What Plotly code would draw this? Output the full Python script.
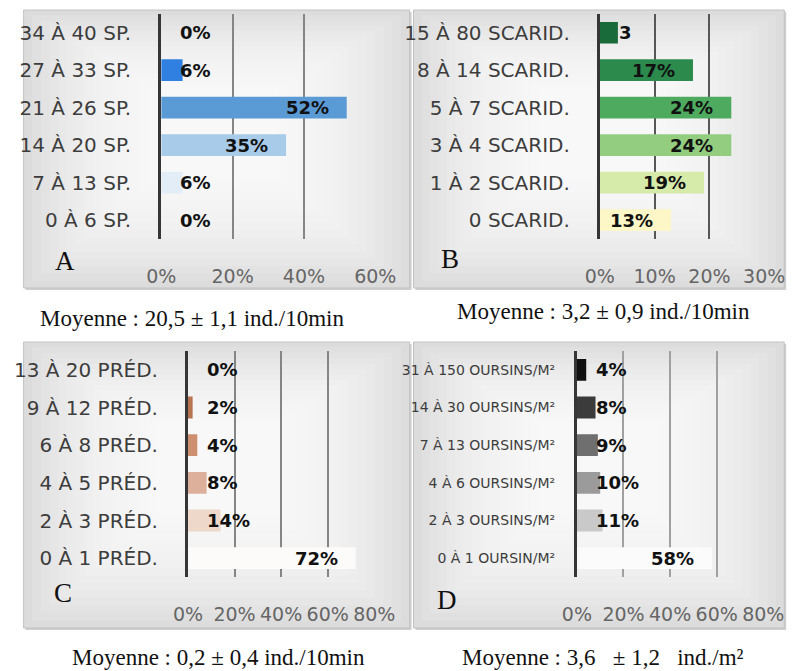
import plotly.graph_objects as go

W, H = 811, 671

# ---------------- data ----------------
cat_a = ["0 À 6 SP.", "7 À 13 SP.", "14 À 20 SP.", "21 À 26 SP.", "27 À 33 SP.", "34 À 40 SP."]
val_a = [0.00, 0.06, 0.35, 0.52, 0.06, 0.00]
lab_a = ["0%", "6%", "35%", "52%", "6%", "0%"]
col_a = ["#dbe8f5", "#e3edf7", "#a9cbea", "#5b9bd5", "#2f80e0", "#1f5fa8"]

cat_b = ["0 SCARID.", "1 À 2 SCARID.", "3 À 4 SCARID.", "5 À 7 SCARID.", "8 À 14 SCARID.", "15 À 80 SCARID."]
val_b = [0.13, 0.19, 0.24, 0.24, 0.17, 0.033]
lab_b = ["13%", "19%", "24%", "24%", "17%", "3"]
col_b = ["#fdf6c6", "#d6eaa9", "#93cd80", "#4daa5f", "#2b8a4c", "#1a6b3a"]

cat_c = ["0 À 1 PRÉD.", "2 À 3 PRÉD.", "4 À 5 PRÉD.", "6 À 8 PRÉD.", "9 À 12 PRÉD.", "13 À 20 PRÉD."]
val_c = [0.72, 0.14, 0.08, 0.04, 0.02, 0.00]
lab_c = ["72%", "14%", "8%", "4%", "2%", "0%"]
col_c = ["#fdfbf9", "#eed8ca", "#dcb09b", "#cd8f6f", "#b87351", "#a0603f"]

cat_d = ["0 À 1 OURSIN/M²", "2 À 3 OURSINS/M²", "4 À 6 OURSINS/M²", "7 À 13 OURSINS/M²",
         "14 À 30 OURSINS/M²", "31 À 150 OURSINS/M²"]
val_d = [0.58, 0.11, 0.10, 0.09, 0.08, 0.04]
lab_d = ["58%", "11%", "10%", "9%", "8%", "4%"]
col_d = ["#fbfbfb", "#c9c9c9", "#9b9b9b", "#6f6f6f", "#3b3b3b", "#111111"]

letters = ["A", "B", "C", "D"]
captions = ["Moyenne : 20,5 ± 1,1 ind./10min", "Moyenne : 3,2 ± 0,9 ind./10min",
            "Moyenne : 0,2 ± 0,4 ind./10min", "Moyenne : 3,6   ± 1,2   ind./m²"]
x_ticks_a = [0, 0.2, 0.4, 0.6]
x_ticks_b = [0, 0.1, 0.2, 0.3]
x_ticks_cd = [0, 0.2, 0.4, 0.6, 0.8]

# ---------------- layout geometry (pixels) ----------------
panels = [
    dict(cats=cat_a, vals=val_a, labs=lab_a, cols=col_a, ticks=x_ticks_a,
         box=(9, 10, 413, 288), px=(153, 377), py=(14, 239), catsize=20, catlen=23,
         grid="#858585", letter=(52, 261), cap=(185, 318)),
    dict(cats=cat_b, vals=val_b, labs=lab_b, cols=col_b, ticks=x_ticks_b,
         box=(417, 10, 805, 288), px=(612, 784), py=(14, 239), catsize=20, catlen=23,
         grid="#575757", letter=(455, 259), cap=(616, 312)),
    dict(cats=cat_c, vals=val_c, labs=lab_c, cols=col_c, ticks=x_ticks_cd,
         box=(9, 342, 413, 628), px=(181, 376), py=(351, 577), catsize=20, catlen=23,
         grid="#858585", letter=(50, 593), cap=(213, 657)),
    dict(cats=cat_d, vals=val_d, labs=lab_d, cols=col_d, ticks=x_ticks_cd,
         box=(417, 342, 805, 628), px=(588, 783), py=(351, 577), catsize=14, catlen=16,
         grid="#a0a0a0", letter=(452, 600), cap=(615, 657)),
]


def fx(p):
    return p / W


def fy(p):
    return 1 - p / H


fig = go.Figure()
shapes = []
annotations = []
layout = {}

for i, p in enumerate(panels):
    n = i + 2
    xa, ya = f"x{n}", f"y{n}"
    xkey, ykey = f"xaxis{n}", f"yaxis{n}"

    # panel background with a soft vignette
    x0, y0, x1, y1 = p["box"]
    shapes.append(dict(type="rect", xref="paper", yref="paper", layer="below",
                       x0=fx(x0 + 2), x1=fx(x1 + 2), y0=fy(y1 + 2), y1=fy(y0 + 2),
                       fillcolor="#cfcfcf", line=dict(width=0)))
    shapes.append(dict(type="rect", xref="paper", yref="paper", layer="below",
                       x0=fx(x0), x1=fx(x1), y0=fy(y1), y1=fy(y0),
                       fillcolor="#dcdcdc", line=dict(color="#c2c2c2", width=1)))
    N = 16
    w, h = x1 - x0, y1 - y0
    for k in range(1, N + 1):
        ix = k * w * 0.36 / N
        iyt = k * h * 0.30 / N
        iyb = k * h * 0.42 / N
        shapes.append(dict(type="rect", xref="paper", yref="paper", layer="below",
                           x0=fx(x0 + ix), x1=fx(x1 - ix), y0=fy(y1 - iyb), y1=fy(y0 + iyt),
                           fillcolor="rgba(255,255,255,0.12)", line=dict(width=0)))

    xmax = p["ticks"][-1]
    fig.add_trace(go.Bar(
        x=p["vals"], y=p["cats"], orientation="h", xaxis=xa, yaxis=ya,
        marker=dict(color=p["cols"], line=dict(width=0)), width=0.58,
        showlegend=False, hoverinfo="skip"))

    layout[xkey] = dict(
        domain=[fx(p["px"][0]), fx(p["px"][1])], anchor=ya, range=[0, xmax],
        tickvals=p["ticks"], tickformat=".0%", showgrid=True, gridcolor=p["grid"],
        gridwidth=1.5, zeroline=False, showline=False, ticks="outside", ticklen=20,
        tickcolor="rgba(0,0,0,0)", tickfont=dict(family="DejaVu Sans", size=19, color="#666666"),
        fixedrange=True)
    layout[ykey] = dict(
        domain=[fy(p["py"][1]), fy(p["py"][0])], anchor=xa, type="category",
        range=[-0.5, 5.5], showgrid=False, showline=True, linecolor="#363636", linewidth=3,
        ticks="outside", ticklen=p["catlen"], tickcolor="rgba(0,0,0,0)",
        tickfont=dict(family="DejaVu Sans", size=p["catsize"], color="#3d3d3d"),
        fixedrange=True)

    # data labels (Excel "inside end", clamped to the axis for short bars)
    pxunit = (p["px"][1] - p["px"][0]) / xmax
    for c, v, t in zip(p["cats"], p["vals"], p["labs"]):
        inside = v * pxunit > 62
        annotations.append(dict(
            xref=xa, yref=ya, x=v if inside else 0, y=c, text=t, showarrow=False,
            xanchor="right" if inside else "left", xshift=-16 if inside else 17,
            font=dict(family="DejaVu Sans", size=18, color="#111111", weight="bold")))

    # panel letter
    annotations.append(dict(xref="paper", yref="paper", x=fx(p["letter"][0]), y=fy(p["letter"][1]),
                            text=letters[i], showarrow=False, xanchor="center", yanchor="middle",
                            font=dict(family="Liberation Serif", size=27, color="#111111")))
    # caption
    annotations.append(dict(xref="paper", yref="paper", x=fx(p["cap"][0]), y=fy(p["cap"][1]),
                            text=captions[i], showarrow=False, xanchor="center", yanchor="middle",
                            font=dict(family="Liberation Serif", size=23, color="#111111")))

fig.update_layout(
    width=W, height=H, margin=dict(l=0, r=0, t=0, b=0), autosize=False,
    paper_bgcolor="white", plot_bgcolor="rgba(0,0,0,0)",
    shapes=shapes, annotations=annotations, bargap=0.42, **layout)

fig.write_html(
    "out.html",
    config={"responsive": False, "displayModeBar": False},
    post_script="document.body.style.margin='0';document.body.style.overflow='hidden';"
                "document.documentElement.style.overflow='hidden';",
)
